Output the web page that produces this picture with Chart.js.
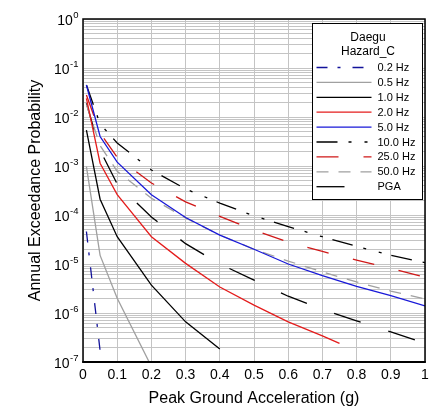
<!DOCTYPE html>
<html><head><meta charset="utf-8">
<script src="https://cdn.jsdelivr.net/npm/chart.js@4/dist/chart.umd.min.js"></script>
<style>html,body{margin:0;padding:0;background:#fff;}canvas{display:block;}</style>
</head><body>
<canvas id="c" width="443" height="410"></canvas>
<script>
const FONT = "'Liberation Sans', Arial, Helvetica, sans-serif";

// ---- data ----
const xCommon = [0.01, 0.05, 0.1, 0.2, 0.3, 0.4, 0.5, 0.6, 0.7, 0.8, 0.9, 1.0];
const x02 = [0.01, 0.05];
const y02 = [4.6e-5, 1.7e-7];
const x05 = [0.01, 0.05, 0.1, 0.2];
const y05 = [9.7e-4, 1.5e-5, 2.0e-6, 8.1e-8];
const x1 = [0.01, 0.05, 0.1, 0.2, 0.3, 0.4];
const y1 = [5.4e-3, 2.1e-4, 3.6e-5, 3.7e-6, 6.6e-7, 1.85e-7];
const x2 = [0.01, 0.05, 0.1, 0.2, 0.3, 0.4, 0.5, 0.6, 0.7, 0.75];
const y2 = [0.024, 1.14e-3, 2.6e-4, 3.6e-5, 1.03e-5, 3.4e-6, 1.45e-6, 6.6e-7, 3.4e-7, 2.4e-7];
const y5 = [0.045, 4.0e-3, 1.2e-3, 2.6e-4, 8.9e-5, 3.9e-5, 2.0e-5, 1.0e-5, 5.8e-6, 3.5e-6, 2.25e-6, 1.4e-6];
const y10 = [0.045, 7.2e-3, 2.95e-3, 8.3e-4, 3.4e-4, 1.75e-4, 9.6e-5, 5.8e-5, 3.6e-5, 2.3e-5, 1.5e-5, 1.07e-5];
const y25 = [0.028, 4.7e-3, 1.5e-3, 4.5e-4, 1.86e-4, 9.4e-5, 4.9e-5, 2.8e-5, 1.8e-5, 1.2e-5, 8.1e-6, 5.4e-6];
const y50 = [0.018, 2.6e-3, 7.8e-4, 2.2e-4, 8.7e-5, 3.9e-5, 2.0e-5, 1.15e-5, 6.9e-6, 4.3e-6, 2.8e-6, 1.94e-6];
const yPGA = [0.019, 2.1e-3, 4.3e-4, 9.1e-5, 2.6e-5, 1.0e-5, 4.7e-6, 2.2e-6, 1.18e-6, 6.9e-7, 4.1e-7, 2.4e-7];

const seriesNames = ['0.2 Hz', '0.5 Hz', '1.0 Hz', '2.0 Hz', '5.0 Hz', '10.0 Hz', '25.0 Hz', '50.0 Hz', 'PGA'];
const legendTitle = ['Daegu', 'Hazard_C'];
const xTicks = [0, 0.1, 0.2, 0.3, 0.4, 0.5, 0.6, 0.7, 0.8, 0.9, 1];
const yDecades = [0, -1, -2, -3, -4, -5, -6, -7];
const yMinor = [1, 2, 3, 4, 5, 6, 7, 8, 9];
const xTitle = 'Peak Ground Acceleration (g)';
const yTitle = 'Annual Exceedance Probability';

const pts = (xs, ys) => ys.map((v, i) => ({x: xs[i], y: v}));
const seriesData = [
  pts(x02, y02), pts(x05, y05), pts(x1, y1), pts(x2, y2), pts(xCommon, y5),
  pts(xCommon, y10), pts(xCommon, y25), pts(xCommon, y50), pts(xCommon, yPGA)
];
const styles = [
  {c: '#12129a', d: [11, 10, 3, 12]},
  {c: '#a0a0a0', d: []},
  {c: '#000000', d: []},
  {c: '#e41c1c', d: []},
  {c: '#1818d8', d: []},
  {c: '#000000', d: [21, 11, 3, 13, 3, 10]},
  {c: '#d01818', d: [22, 25]},
  {c: '#a0a0a0', d: [12, 10]},
  {c: '#000000', d: [28, 29]}
];

const datasets = seriesNames.map((n, i) => ({
  label: n,
  data: seriesData[i],
  borderColor: styles[i].c,
  borderDash: styles[i].d,
  borderWidth: 1.3,
  pointRadius: 0,
  fill: false,
  tension: 0
}));

const yGrid = [];
yDecades.forEach(e => yMinor.forEach(m => { const v = m * Math.pow(10, e); if (v <= 1 && v >= 1e-7) yGrid.push(v); }));

const framePlugin = {
  id: 'frameLegend',
  beforeDraw(chart) {
    const {ctx} = chart;
    ctx.save(); ctx.fillStyle = '#fff'; ctx.fillRect(0, 0, chart.width, chart.height); ctx.restore();
  },
  afterDatasetsDraw(chart) {
    const {ctx, chartArea: a, scales} = chart;
    ctx.save();
    ctx.setLineDash([]);
    ctx.strokeStyle = '#000';
    ctx.lineWidth = 1.5;
    ctx.strokeRect(a.left, a.top, a.right - a.left, a.bottom - a.top);
    ctx.lineWidth = 2;
    ctx.beginPath(); ctx.moveTo(a.left - 0.75, a.bottom); ctx.lineTo(a.right + 0.75, a.bottom); ctx.stroke();

    // y tick labels with superscript exponents
    const ys = scales.y;
    ctx.fillStyle = '#000';
    ctx.textAlign = 'right';
    ctx.textBaseline = 'alphabetic';
    yDecades.forEach(e => {
      const py = ys.getPixelForValue(Math.pow(10, e));
      const ex = String(e);
      ctx.font = '9.5px ' + FONT;
      ctx.fillText(ex, 78.5, py - 1);
      const w = ctx.measureText(ex).width;
      ctx.font = '14px ' + FONT;
      ctx.fillText('10', 78.5 - w - 0.5, py + 6);
    });

    // legend box
    const L = 312, T = 23, W = 110, H = 176;
    ctx.fillStyle = '#fff';
    ctx.fillRect(L, T, W, H);
    ctx.lineWidth = 1;
    ctx.strokeStyle = '#000';
    ctx.strokeRect(L + 0.5, T + 0.5, W, H);
    ctx.fillStyle = '#000';
    ctx.textAlign = 'center';
    ctx.textBaseline = 'middle';
    ctx.font = '12px ' + FONT;
    legendTitle.forEach((t, i) => ctx.fillText(t, L + W / 2 + 1, 38 + i * 14));
    ctx.textAlign = 'left';
    ctx.font = '11px ' + FONT;
    chart.data.datasets.forEach((ds, i) => {
      const yy = 67.5 + i * 14.9;
      ctx.strokeStyle = ds.borderColor;
      ctx.lineWidth = ds.borderWidth;
      ctx.setLineDash(ds.borderDash || []);
      ctx.lineDashOffset = 0;
      ctx.beginPath(); ctx.moveTo(316.5, yy); ctx.lineTo(371.5, yy); ctx.stroke();
      ctx.setLineDash([]);
      ctx.fillStyle = '#000';
      ctx.fillText(ds.label, 377.5, yy + 0.5);
    });
    ctx.restore();
  }
};

new Chart(document.getElementById('c'), {
  type: 'line',
  data: {datasets},
  options: {
    responsive: false,
    animation: false,
    devicePixelRatio: 1,
    layout: {padding: {left: 0, right: 18, top: 19, bottom: 0}},
    plugins: {legend: {display: false}, tooltip: {enabled: false}},
    scales: {
      x: {
        type: 'linear', min: 0, max: 1,
        afterBuildTicks: s => { s.ticks = xTicks.map(v => ({value: v})); },
        afterFit: s => { s.height = 48; },
        grid: {color: '#c4c4c4', lineWidth: 1, drawTicks: false},
        border: {display: false},
        ticks: {
          autoSkip: false, maxRotation: 0, padding: 5, color: '#000',
          font: {family: FONT, size: 14},
          callback: v => (v === 0 ? '0' : v === 1 ? '1' : Number(v).toFixed(1))
        },
        title: {display: true, text: xTitle, color: '#000', font: {family: FONT, size: 16}, padding: {top: 0, bottom: 2}}
      },
      y: {
        type: 'logarithmic', min: 1e-7, max: 1,
        afterBuildTicks: s => { s.ticks = yGrid.map(v => ({value: v})); },
        afterFit: s => { s.width = 83; },
        grid: {color: '#c4c4c4', lineWidth: 1, drawTicks: false},
        border: {display: false},
        ticks: {display: false},
        title: {display: true, text: yTitle, color: '#000', font: {family: FONT, size: 16}, padding: {top: 26, bottom: 0}}
      }
    }
  },
  plugins: [framePlugin]
});
</script>
</body></html>
